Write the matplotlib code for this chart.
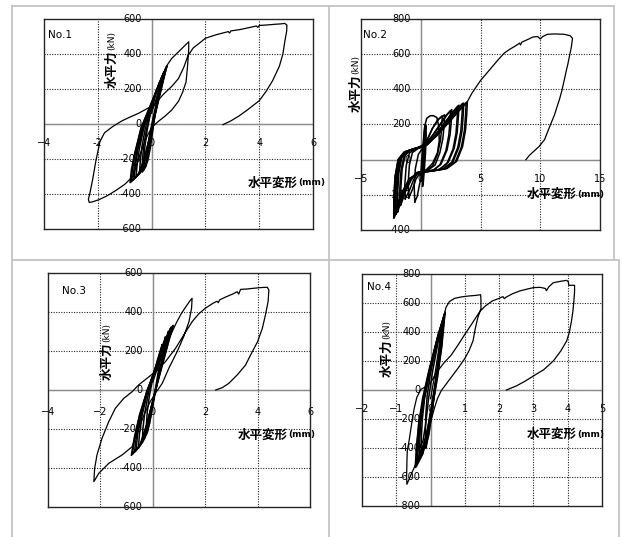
import numpy as np
import matplotlib
matplotlib.use("Agg")
import matplotlib.pyplot as plt
from matplotlib import transforms
from matplotlib.lines import Line2D

W, H = 623, 537
CJK = ['Noto Sans CJK JP', 'DejaVu Sans']

# ---------------- No.1 ----------------
no1_xticks = [-4, -2, 0, 2, 4, 6]
no1_xlabels = ['\u22124', '-2', '0', '2', '4', '6']
no1_yticks = [-600, -400, -200, 0, 200, 400, 600]
no1_ylabels = ['-600', '-400', '-200', '0', '200', '400', '600']
no1_small = [
    [(0.3, 240), (0.12, 160), (-0.05, 60), (-0.17, -40), (-0.25, -130), (-0.29, -200), (-0.3, -265),
     (-0.14, -210), (-0.04, -130), (0.04, -40), (0.12, 50), (0.22, 150), (0.3, 240)],
    [(0.38, 270), (0.15, 180), (-0.07, 70), (-0.24, -30), (-0.36, -130), (-0.42, -210), (-0.45, -285),
     (-0.22, -230), (-0.09, -140), (0.02, -45), (0.13, 50), (0.26, 160), (0.38, 270)],
    [(0.45, 295), (0.2, 200), (-0.08, 80), (-0.3, -30), (-0.46, -145), (-0.54, -235), (-0.58, -305),
     (-0.32, -255), (-0.16, -160), (-0.03, -55), (0.1, 45), (0.28, 170), (0.45, 295)],
    [(0.52, 315), (0.25, 215), (-0.08, 90), (-0.35, -25), (-0.55, -155), (-0.65, -250), (-0.7, -322),
     (-0.42, -275), (-0.22, -180), (-0.07, -70), (0.08, 35), (0.3, 175), (0.52, 315)],
    [(0.57, 330), (0.3, 230), (-0.05, 100), (-0.38, -20), (-0.62, -160), (-0.75, -260), (-0.8, -335),
     (-0.5, -290), (-0.28, -200), (-0.1, -90), (0.07, 20), (0.3, 170), (0.57, 330)],
    [(0.55, 325), (0.27, 225), (-0.08, 95), (-0.4, -25), (-0.6, -160), (-0.71, -258), (-0.76, -330),
     (-0.46, -285), (-0.25, -195), (-0.08, -85), (0.08, 22), (0.32, 172), (0.55, 325)],
    [(0.42, 285), (0.2, 190), (-0.02, 75), (-0.18, -25), (-0.3, -130), (-0.34, -210), (-0.35, -275),
     (-0.2, -240), (-0.15, -160), (-0.08, -70), (0.05, 30), (0.22, 150), (0.42, 285)],
    [(0.5, 310), (0.24, 210), (-0.06, 88), (-0.32, -28), (-0.52, -150), (-0.61, -245), (-0.65, -315),
     (-0.38, -268), (-0.19, -172), (-0.05, -65), (0.1, 38), (0.3, 172), (0.5, 310)],
]
no1_big = [
    (0.0, 60), (0.2, 160), (0.4, 260), (0.55, 330), (0.75, 375), (0.95, 405), (1.15, 435),
    (1.3, 458), (1.38, 470),
    (1.38, 440), (1.37, 400), (1.33, 320), (1.28, 240), (1.15, 180), (1.0, 130), (0.75, 80),
    (0.5, 45), (0.25, 15), (0.0, -20), (-0.2, -80), (-0.4, -160), (-0.55, -230), (-0.7, -300),
    (-1.0, -345), (-1.33, -380), (-1.65, -410), (-1.95, -432), (-2.2, -445), (-2.32, -448),
    (-2.35, -430), (-2.3, -400), (-2.2, -324), (-2.07, -210), (-1.92, -100), (-1.75, -50),
    (-1.45, -15), (-1.1, 18), (-0.8, 40), (-0.5, 60), (-0.2, 85), (0.1, 110), (0.44, 170),
    (0.75, 215), (1.0, 260), (1.2, 325), (1.35, 390), (1.55, 435), (1.8, 465), (2.0, 490),
    (2.4, 510), (2.85, 528), (2.9, 520), (2.95, 532), (3.3, 540), (3.6, 550), (3.9, 560),
    (3.95, 552), (4.0, 563), (4.3, 566), (4.6, 570), (4.8, 572), (4.95, 575), (5.03, 565),
    (5.02, 530), (4.95, 470), (4.88, 400), (4.75, 330), (4.5, 248), (4.25, 185), (4.0, 133),
    (3.6, 85), (3.27, 48), (2.95, 18), (2.65, -4),
]

# ---------------- No.2 ----------------
no2_xticks = [-5, 0, 5, 10, 15]
no2_xlabels = ['\u22125', '0', '5', '10', '15']
no2_yticks = [-400, -200, 0, 200, 400, 600, 800]
no2_ylabels = ['-400', '-200', '0', '200', '400', '600', '800']
no2_loops = [
    [(0.05, -120), (0.1, -40), (0.2, 60), (0.3, 150), (0.38, 200), (0.42, 150), (0.35, 60),
     (0.25, -30), (0.15, -100), (0.05, -120)],
    [(0.0, -90), (0.08, 0), (0.2, 90), (0.3, 170), (0.35, 190), (0.38, 120), (0.3, 30),
     (0.2, -50), (0.08, -90), (0.0, -90)],
    [(0.15, -150), (0.2, -50), (0.28, 50), (0.35, 140), (0.42, 195), (0.45, 140), (0.4, 40),
     (0.3, -60), (0.2, -140), (0.15, -150)],
    [(-0.5, -240), (-0.55, -150), (-0.45, -50), (-0.2, 30), (0.15, 65), (0.3, 110), (0.33, 190),
     (0.5, 235), (0.8, 250), (1.05, 250), (1.35, 240), (1.5, 190), (1.55, 110), (1.4, 40),
     (1.0, -20), (0.5, -55), (0.1, -80), (-0.1, -140), (-0.3, -210), (-0.5, -240)],
    [(-1.0, -217), (-1.05, -130), (-0.95, -30), (-0.7, 40), (-0.2, 65), (0.3, 80), (0.6, 120),
     (1.0, 180), (1.5, 230), (2.0, 255), (1.95, 190), (1.85, 120), (1.6, 40), (1.2, -30),
     (0.6, -60), (0.0, -70), (-0.4, -110), (-0.7, -170), (-1.0, -217)],
    [(-1.3, -222), (-1.33, -140), (-1.22, -35), (-0.95, 38), (-0.4, 62), (0.2, 76), (0.55, 115),
     (0.95, 175), (1.4, 225), (1.8, 250), (1.76, 185), (1.65, 110), (1.4, 30), (1.0, -35),
     (0.4, -62), (-0.2, -72), (-0.6, -115), (-0.95, -175), (-1.3, -222)],
    [(-1.75, -260), (-1.75, -160), (-1.65, -60), (-1.4, 20), (-0.9, 55), (-0.2, 70), (0.4, 90),
     (1.0, 140), (1.6, 200), (2.1, 250), (2.5, 280), (2.45, 220), (2.35, 140), (2.1, 50),
     (1.6, -30), (1.0, -62), (0.3, -68), (-0.4, -75), (-0.9, -120), (-1.4, -190), (-1.75, -260)],
    [(-1.65, -255), (-1.66, -155), (-1.56, -55), (-1.3, 25), (-0.8, 58), (-0.1, 73), (0.5, 95),
     (1.1, 145), (1.7, 205), (2.2, 255), (2.6, 285), (2.56, 225), (2.46, 145), (2.2, 55),
     (1.7, -25), (1.1, -58), (0.4, -65), (-0.3, -72), (-0.8, -115), (-1.3, -185), (-1.65, -255)],
    [(-2.0, -300), (-2.0, -190), (-1.9, -80), (-1.65, 10), (-1.1, 50), (-0.3, 65), (0.5, 85),
     (1.2, 140), (2.0, 210), (2.6, 265), (3.1, 305), (3.05, 240), (2.95, 150), (2.7, 60),
     (2.2, -20), (1.5, -58), (0.6, -68), (-0.3, -75), (-1.0, -120), (-1.6, -210), (-2.0, -300)],
    [(-1.92, -295), (-1.93, -185), (-1.83, -75), (-1.58, 14), (-1.0, 53), (-0.2, 68), (0.6, 88),
     (1.3, 145), (2.1, 215), (2.7, 270), (3.2, 310), (3.15, 245), (3.05, 155), (2.8, 65),
     (2.3, -15), (1.6, -55), (0.7, -65), (-0.2, -72), (-0.9, -115), (-1.5, -205), (-1.92, -295)],
    [(-2.15, -315), (-2.15, -200), (-2.05, -90), (-1.8, 5), (-1.3, 45), (-0.5, 62), (0.4, 80),
     (1.3, 140), (2.2, 215), (2.9, 275), (3.5, 320), (3.45, 250), (3.35, 160), (3.1, 70),
     (2.6, -15), (1.8, -55), (0.8, -66), (-0.2, -74), (-1.0, -115), (-1.7, -210), (-2.15, -315)],
    [(-2.08, -310), (-2.09, -195), (-1.99, -85), (-1.74, 8), (-1.22, 48), (-0.4, 64), (0.5, 82),
     (1.4, 142), (2.3, 218), (3.0, 278), (3.6, 322), (3.55, 252), (3.45, 162), (3.2, 72),
     (2.7, -12), (1.9, -52), (0.9, -63), (-0.1, -71), (-0.9, -110), (-1.6, -205), (-2.08, -310)],
    [(-2.25, -330), (-2.25, -210), (-2.15, -95), (-1.9, 0), (-1.4, 42), (-0.6, 58), (0.3, 75),
     (1.3, 135), (2.3, 210), (3.2, 280), (3.9, 330), (3.85, 260), (3.75, 170), (3.5, 75),
     (3.0, -10), (2.2, -50), (1.1, -62), (0.0, -70), (-0.9, -105), (-1.7, -200), (-2.25, -330)],
    [(-2.2, -325), (-2.2, -205), (-2.1, -92), (-1.85, 3), (-1.35, 45), (-0.55, 60), (0.35, 77),
     (1.35, 137), (2.35, 212), (3.25, 282), (3.8, 322), (3.75, 255), (3.65, 165), (3.4, 72),
     (2.9, -12), (2.1, -52), (1.0, -64), (-0.05, -72), (-0.95, -108), (-1.7, -205), (-2.2, -325)],
]
no2_big = [
    (-2.25, -330), (-2.25, -210), (-2.15, -95), (-1.9, 0), (-1.4, 42), (-0.6, 58), (0.3, 75),
    (1.3, 135), (2.3, 210), (3.2, 280), (3.9, 330), (4.3, 380), (4.7, 420), (5.0, 450),
    (5.5, 490), (6.0, 530), (6.5, 570), (7.0, 607), (7.5, 630), (8.0, 650), (8.27, 663),
    (8.35, 652), (8.45, 668), (9.0, 685), (9.4, 698), (9.8, 700), (10.0, 686), (10.2, 700),
    (10.6, 713), (11.2, 715), (12.0, 713), (12.5, 705), (12.7, 690), (12.6, 640), (12.45, 590),
    (12.3, 540), (12.2, 512), (12.0, 450), (11.8, 390), (11.6, 341), (11.4, 300), (11.2, 256),
    (10.8, 190), (10.36, 114), (9.9, 75), (9.5, 50), (9.1, 25), (8.8, 0),
]

# ---------------- No.3 ----------------
no3_xticks = [-4, -2, 0, 2, 4, 6]
no3_xlabels = ['\u22124', '\u22122', '0', '2', '4', '6']
no3_yticks = [-600, -400, -200, 0, 200, 400, 600]
no3_ylabels = ['-600', '-400', '-200', '0', '200', '400', '600']
no3_small = [
    [(0.35, 230), (0.17, 150), (0.0, 60), (-0.13, -30), (-0.21, -110), (-0.24, -170), (-0.25, -230),
     (-0.12, -170), (-0.02, -90), (0.08, -10), (0.18, 70), (0.27, 150), (0.35, 230)],
    [(0.48, 270), (0.27, 190), (0.03, 80), (-0.17, -20), (-0.31, -120), (-0.38, -200), (-0.4, -270),
     (-0.2, -215), (-0.06, -125), (0.07, -30), (0.2, 60), (0.35, 160), (0.48, 270)],
    [(0.6, 300), (0.36, 215), (0.06, 100), (-0.2, -10), (-0.4, -125), (-0.51, -225), (-0.55, -300),
     (-0.3, -245), (-0.13, -145), (0.04, -40), (0.2, 60), (0.4, 180), (0.6, 300)],
    [(0.7, 320), (0.44, 235), (0.1, 110), (-0.22, -5), (-0.47, -125), (-0.62, -230), (-0.7, -320),
     (-0.42, -270), (-0.2, -165), (0.0, -55), (0.2, 55), (0.45, 190), (0.7, 320)],
    [(0.78, 330), (0.5, 245), (0.15, 115), (-0.2, 0), (-0.5, -125), (-0.7, -240), (-0.82, -335),
     (-0.5, -285), (-0.25, -185), (-0.02, -65), (0.2, 50), (0.48, 190), (0.78, 330)],
    [(0.75, 326), (0.47, 240), (0.12, 112), (-0.22, -3), (-0.5, -128), (-0.68, -238), (-0.78, -330),
     (-0.47, -280), (-0.23, -178), (0.0, -60), (0.22, 55), (0.5, 195), (0.75, 326)],
    [(0.66, 312), (0.4, 228), (0.08, 105), (-0.21, -8), (-0.44, -125), (-0.58, -228), (-0.64, -312),
     (-0.37, -258), (-0.17, -155), (0.02, -48), (0.21, 58), (0.43, 185), (0.66, 312)],
]
no3_big = [
    (0.0, 40), (0.2, 120), (0.36, 180), (0.55, 245), (0.74, 299), (0.9, 345), (1.06, 385),
    (1.2, 415), (1.31, 436), (1.42, 458), (1.5, 470),
    (1.48, 419), (1.38, 350), (1.18, 274), (0.93, 197), (0.61, 111), (0.36, 34), (0.1, -17),
    (-0.1, -60), (-0.28, -111), (-0.54, -197), (-0.79, -291), (-1.17, -333), (-1.68, -376),
    (-2.06, -427), (-2.25, -470),
    (-2.22, -402), (-2.13, -333), (-1.94, -248), (-1.68, -162), (-1.43, -94), (-1.11, -43),
    (-0.79, -9), (-0.54, 26), (-0.22, 60), (0.1, 94), (0.48, 145), (0.87, 214), (1.18, 282),
    (1.5, 350), (1.75, 390), (2.0, 419), (2.3, 445), (2.45, 455), (2.5, 448), (2.55, 462),
    (2.8, 478), (3.03, 491), (3.22, 504), (3.28, 492), (3.35, 516), (3.6, 518), (3.8, 521),
    (4.1, 525), (4.37, 527), (4.43, 513), (4.4, 453), (4.3, 385), (4.18, 316), (4.0, 248),
    (3.73, 179), (3.54, 128), (3.22, 77), (2.9, 34), (2.65, 12), (2.4, 0),
]

# ---------------- No.4 ----------------
no4_xticks = [-2, -1, 0, 1, 2, 3, 4, 5]
no4_xlabels = ['\u22122', '\u22121', '0', '1', '2', '3', '4', '5']
no4_yticks = [-800, -600, -400, -200, 0, 200, 400, 600, 800]
no4_ylabels = ['-800', '-600', '-400', '-200', '0', '200', '400', '600', '800']
no4_small = [
    [(0.3, 420), (0.16, 290), (0.0, 120), (-0.1, -40), (-0.14, -180), (-0.15, -300), (-0.15, -400),
     (-0.05, -310), (0.03, -180), (0.11, -30), (0.18, 120), (0.25, 280), (0.3, 420)],
    [(0.34, 460), (0.17, 320), (-0.03, 120), (-0.17, -50), (-0.24, -200), (-0.27, -330), (-0.28, -450),
     (-0.13, -360), (-0.02, -220), (0.08, -60), (0.17, 100), (0.27, 280), (0.34, 460)],
    [(0.38, 500), (0.19, 350), (-0.04, 130), (-0.2, -50), (-0.3, -220), (-0.36, -370), (-0.38, -500),
     (-0.2, -410), (-0.07, -260), (0.05, -80), (0.17, 100), (0.3, 300), (0.38, 500)],
    [(0.42, 535), (0.22, 380), (-0.03, 140), (-0.22, -60), (-0.34, -240), (-0.41, -400), (-0.45, -535),
     (-0.25, -440), (-0.1, -280), (0.04, -100), (0.17, 80), (0.31, 300), (0.42, 535)],
    [(0.4, 520), (0.21, 370), (-0.05, 135), (-0.23, -55), (-0.35, -235), (-0.41, -395), (-0.43, -525),
     (-0.23, -432), (-0.08, -272), (0.06, -95), (0.19, 85), (0.32, 302), (0.4, 520)],
    [(0.36, 480), (0.18, 335), (-0.04, 125), (-0.19, -55), (-0.28, -215), (-0.32, -355), (-0.33, -470),
     (-0.17, -385), (-0.05, -240), (0.07, -70), (0.18, 95), (0.29, 290), (0.36, 480)],
    [(0.42, 530), (0.24, 385), (0.0, 145), (-0.18, -55), (-0.31, -235), (-0.39, -395), (-0.42, -530),
     (-0.22, -438), (-0.08, -278), (0.07, -98), (0.2, 82), (0.33, 302), (0.42, 530)],
    [(0.35, 450), (0.22, 330), (0.06, 130), (-0.06, -60), (-0.14, -230), (-0.22, -350), (-0.32, -395),
     (-0.13, -400), (-0.05, -280), (0.06, -120), (0.16, 60), (0.26, 250), (0.35, 450)],
]
no4_big = [
    (0.0, -60), (0.12, 100), (0.25, 300), (0.4, 520), (0.45, 570), (0.55, 610), (0.7, 632),
    (0.9, 642), (1.1, 648), (1.3, 652), (1.46, 657),
    (1.47, 620), (1.47, 560), (1.38, 501), (1.3, 420), (1.24, 340), (1.12, 270), (0.99, 214),
    (0.8, 150), (0.6, 87), (0.42, 30), (0.31, -5), (0.2, -60), (0.12, -119), (0.0, -220),
    (-0.15, -330), (-0.3, -430), (-0.45, -520), (-0.58, -590), (-0.69, -650),
    (-0.7, -600), (-0.69, -500), (-0.68, -420), (-0.62, -340), (-0.55, -230), (-0.48, -130),
    (-0.4, -50), (-0.28, 5), (-0.12, 25), (0.0, 50), (0.17, 120), (0.4, 190), (0.6, 240),
    (0.8, 310), (1.0, 384), (1.2, 455), (1.35, 510), (1.45, 545), (1.6, 580), (1.8, 614),
    (2.0, 632), (2.11, 644), (2.15, 630), (2.2, 640), (2.4, 665), (2.6, 683), (2.8, 695),
    (3.0, 706), (3.2, 708), (3.35, 700), (3.38, 685), (3.45, 712), (3.58, 740), (3.8, 750),
    (3.97, 756), (4.02, 745), (4.03, 722), (4.12, 722), (4.2, 722), (4.2, 680), (4.18, 614),
    (4.15, 540), (4.11, 476), (4.05, 400), (3.97, 338), (3.8, 270), (3.58, 200), (3.3, 140),
    (3.0, 97), (2.75, 60), (2.5, 28), (2.21, 0),
]

fig = plt.figure(figsize=(W / 100, H / 100), dpi=100)
fig.patch.set_facecolor('white')


def panel(rect, xticks, xlabels, yticks, ylabels, small, big, name, name_xy, ylab, xlab, xoff):
    l, t, r, b = rect
    ax = fig.add_axes([l / W, 1 - b / H, (r - l) / W, (b - t) / H])
    ax.set_xlim(xticks[0], xticks[-1])
    ax.set_ylim(yticks[0], yticks[-1])
    ax.set_xticks([])
    ax.set_yticks([])
    for v in xticks[1:-1]:
        ax.axvline(v, color='0.15', lw=0.8, ls=(0, (1, 1.3)), zorder=1)
    for v in yticks[1:-1]:
        ax.axhline(v, color='0.15', lw=0.8, ls=(0, (1, 1.3)), zorder=1)
    ax.axhline(0, color='0.55', lw=1.0, zorder=1.5)
    ax.axvline(0, color='0.55', lw=1.0, zorder=1.5)
    for s in ax.spines.values():
        s.set_color('0.15')
        s.set_linewidth(1.0)
    tx = transforms.offset_copy(ax.transData, fig=fig, x=0, y=-xoff, units='dots')
    for v, s in zip(xticks, xlabels):
        ax.text(v, 0, s, transform=tx, ha='center', va='center', fontsize=7,
                clip_on=False, zorder=2)
    ty = transforms.offset_copy(ax.transData, fig=fig, x=-10, y=0, units='dots')
    for v, s in zip(yticks, ylabels):
        ax.text(0, v, s, transform=ty, ha='right', va='center', fontsize=7,
                clip_on=False, zorder=2)
    for c in small:
        xs, ys = np.array(c).T
        ax.plot(xs, ys, color='k', lw=1.1, zorder=3, solid_joinstyle='round')
    xs, ys = np.array(big).T
    ax.plot(xs, ys, color='k', lw=0.9, zorder=3, solid_joinstyle='round')
    fig.text(name_xy[0] / W, 1 - name_xy[1] / H, name, ha='left', va='center', fontsize=7.5)
    # y label (vertical)
    cx, yb = ylab
    fig.text(cx / W, 1 - yb / H, '水平力', rotation=90, ha='center', va='bottom',
             fontsize=9, fontweight='bold', family=CJK)
    fig.text(cx / W, 1 - (yb - 38) / H, '(kN)', rotation=90, ha='center', va='bottom',
             fontsize=6.5)
    # x label
    xl, cy = xlab
    fig.text(xl / W, 1 - cy / H, '水平変形', ha='left', va='center',
             fontsize=9, fontweight='bold', family=CJK)
    fig.text((xl + 50) / W, 1 - cy / H, '(mm)', ha='left', va='center',
             fontsize=6.5, fontweight='bold')


panel((44, 19, 313, 229), no1_xticks, no1_xlabels, no1_yticks, no1_ylabels,
      no1_small, no1_big, 'No.1', (48, 35), (112, 88), (248, 183), 19)
panel((361, 19, 600, 230), no2_xticks, no2_xlabels, no2_yticks, no2_ylabels,
      no2_loops, no2_big, 'No.2', (363, 35), (356, 112), (527, 194), 19)
panel((48, 273, 310, 507), no3_xticks, no3_xlabels, no3_yticks, no3_ylabels,
      no3_small, no3_big, 'No.3', (62, 291), (107, 380), (238, 435), 22)
panel((362, 274, 602, 506), no4_xticks, no4_xlabels, no4_yticks, no4_ylabels,
      no4_small, no4_big, 'No.4', (367, 287), (387, 377), (527, 434), 19)

# table grid lines
grid_col = '#c4c4c4'
for x0, y0, x1, y1 in [(12, 6, 614, 6), (12, 260, 619, 260), (12, 6, 12, 537),
                       (329, 6, 329, 537), (614, 6, 614, 260), (619, 260, 619, 537)]:
    fig.add_artist(Line2D([x0 / W, x1 / W], [1 - y0 / H, 1 - y1 / H],
                          transform=fig.transFigure, color=grid_col, lw=1.3))

fig.savefig('out.png', dpi=100)
